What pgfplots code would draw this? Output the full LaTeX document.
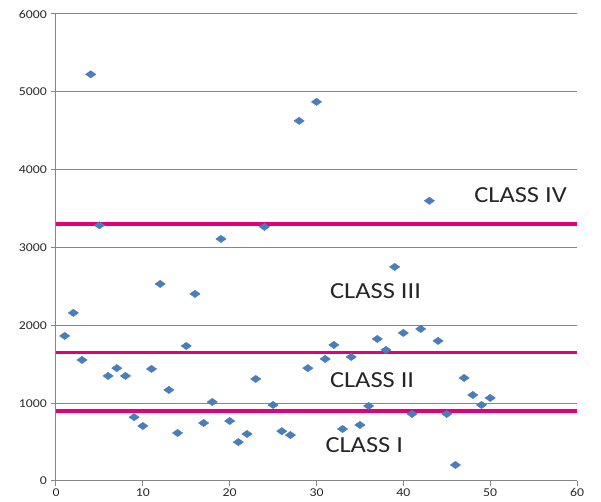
\documentclass[border=0pt]{standalone}
\usepackage{pgfplots}
\pgfplotsset{compat=1.18}
\usepackage{fontspec}
\setmainfont{Carlito}
\definecolor{mk}{RGB}{74,126,187}
\definecolor{mag}{RGB}{224,0,122}
\definecolor{gr}{RGB}{134,134,134}
\definecolor{txt}{RGB}{40,40,40}
\begin{document}
\begin{tikzpicture}
\path[use as bounding box] (-56pt,-21pt) rectangle (545pt,481pt);
\begin{axis}[
  at={(0,0)}, anchor=south west,
  scale only axis, width=521pt, height=467pt,
  xmin=0, xmax=60, ymin=0, ymax=6000,
  xtick={0,10,...,60}, ytick={0,1000,...,6000},
  axis x line*=bottom, axis y line*=left,
  axis line style={gr, line width=1pt},
  tick align=outside, major tick length=5pt,
  tick style={gr, line width=1pt},
  ymajorgrids, grid style={gr, line width=1pt},
  tick label style={font=\fontsize{12}{12}\selectfont, text=txt, xscale=1.15},
  /pgf/number format/assume math mode=true,
  scaled ticks=false,
  yticklabel style={/pgf/number format/1000 sep={}},
  xticklabel style={yshift=1pt},
  clip=false,
]
\addplot[mag, line width=3.5pt, forget plot] coordinates {(0,3300) (60,3300)};
\addplot[mag, line width=3.5pt, forget plot] coordinates {(0,1650) (60,1650)};
\addplot[mag, line width=3.5pt, forget plot] coordinates {(0,900) (60,900)};
\addplot[only marks, mark=diamond*, mark size=4.3pt, mark options={fill=mk, draw=mk, xscale=1.6, yscale=0.85}] coordinates {
(1,1864) (2,2160) (3,1555) (4,5225) (5,3285) (6,1350) (7,1450) (8,1350) (9,820) (10,707)
(11,1440) (12,2532) (13,1170) (14,617) (15,1735) (16,2404) (17,745) (18,1015) (19,3110) (20,771)
(21,500) (22,604) (23,1311) (24,3265) (25,977) (26,640) (27,590) (28,4627) (29,1450) (30,4871)
(31,1568) (32,1748) (33,668) (34,1594) (35,720) (36,964) (37,1825) (38,1684) (39,2750) (40,1902)
(41,861) (42,1954) (43,3600) (44,1800) (45,861) (46,206) (47,1324) (48,1105) (49,977) (50,1067)
};
\tikzset{cls/.style={font=\fontsize{23}{23}\selectfont, text=black!85, xscale=1.15}}
\node[cls] at (axis cs:53.5,3676) {CLASS IV};
\node[cls] at (axis cs:36.8,2442) {CLASS III};
\node[cls] at (axis cs:36.4,1298) {CLASS II};
\node[cls] at (axis cs:35.5,463) {CLASS I};
\end{axis}
\end{tikzpicture}
\end{document}
